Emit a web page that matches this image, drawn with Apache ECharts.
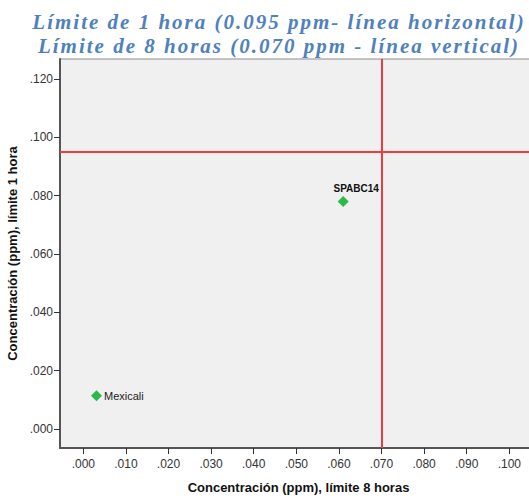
<!DOCTYPE html>
<html><head><meta charset="utf-8">
<script src="https://cdn.jsdelivr.net/npm/echarts@6/dist/echarts.min.js"></script>
<style>
html,body{margin:0;padding:0;background:#fff}
#c{width:529px;height:498px}
#c svg text[style*="Liberation Serif"]{letter-spacing:2px}
</style>
</head><body><div id="c"></div>
<script>
const titleLines = ['Límite de 1 hora (0.095 ppm- línea horizontal)', 'Límite de 8 horas (0.070 ppm - línea vertical)'];
const xName = 'Concentración (ppm), límite 8 horas';
const yName = 'Concentración (ppm), límite 1 hora';
const stations = ['Mexicali', 'SPABC14'];
const limit8h = [0.0031, 0.0610];
const limit1h = [0.0114, 0.0780];
const limitH = 0.095;
const limitV = 0.070;
const xTicks = [0, 0.01, 0.02, 0.03, 0.04, 0.05, 0.06, 0.07, 0.08, 0.09, 0.10];
const yTicks = [0, 0.02, 0.04, 0.06, 0.08, 0.10, 0.12];

const fmt = v => v.toFixed(3).replace(/^0/, '');
const chart = echarts.init(document.getElementById('c'), null, {renderer: 'svg'});
chart.setOption({
  animation: false,
  title: {
    text: titleLines.join('\n'), left: 274, textAlign: 'center', top: 5,
    textStyle: {fontFamily: 'Liberation Serif', fontStyle: 'italic', fontWeight: 'bold', fontSize: 21, color: '#4f81bd', lineHeight: 24}
  },
  grid: {left: 60, top: 59, right: -8, bottom: 50, show: true, outerBoundsMode: 'none', containLabel: false,
    backgroundColor: '#f0f0f0', borderColor: '#8c8c8c', borderWidth: 1},
  xAxis: {
    type: 'value', min: -0.00547, max: 0.1065,
    name: xName, nameLocation: 'middle', nameGap: 33, nameTextStyle: {fontFamily: 'Liberation Sans', fontWeight: 'bold', fontSize: 13, color: '#111'},
    splitLine: {show: false},
    axisLine: {onZero: false, lineStyle: {color: '#555', width: 2}},
    axisTick: {customValues: xTicks, length: 6, lineStyle: {color: '#333'}},
    axisLabel: {customValues: xTicks, formatter: fmt, fontFamily: 'Liberation Sans', fontSize: 12, color: '#333', margin: 10}
  },
  yAxis: {
    type: 'value', min: -0.00651, max: 0.12686,
    name: yName, nameLocation: 'middle', nameGap: 38, nameRotate: 90,
    nameTextStyle: {fontFamily: 'Liberation Sans', fontWeight: 'bold', fontSize: 13, color: '#111'},
    splitLine: {show: false},
    axisLine: {onZero: false, lineStyle: {color: '#555', width: 2}},
    axisTick: {customValues: yTicks, length: 6, lineStyle: {color: '#333'}},
    axisLabel: {customValues: yTicks, formatter: fmt, fontFamily: 'Liberation Sans', fontSize: 12, color: '#333', margin: 7}
  },
  series: [{
    type: 'scatter',
    symbol: 'diamond', symbolSize: 11,
    itemStyle: {color: '#2db84b', opacity: 1},
    data: stations.map((s, i) => ({
      name: s, value: [limit8h[i], limit1h[i]],
      label: i === 0
        ? {show: true, position: 'right', distance: 2, formatter: '{b}', fontFamily: 'Liberation Sans', fontSize: 11, color: '#222'}
        : {show: true, position: 'top', distance: 3, offset: [13, 0], formatter: '{b}', fontFamily: 'Liberation Sans', fontWeight: 'bold', fontSize: 10, color: '#111'}
    })),
    markLine: {
      silent: true, symbol: ['none', 'none'], label: {show: false}, precision: 4,
      lineStyle: {color: '#ee3b3b', width: 2, type: 'solid'},
      data: [{yAxis: limitH}, {xAxis: limitV}]
    }
  }]
});
</script></body></html>
